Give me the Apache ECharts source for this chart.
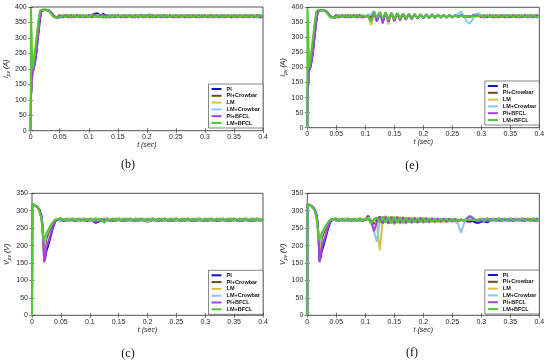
<!DOCTYPE html>
<html><head><meta charset="utf-8">
<script src="https://cdn.jsdelivr.net/npm/echarts/dist/echarts.min.js"></script>
<style>html,body{margin:0;padding:0;background:#fff}#c{width:550px;height:362px}</style>
</head><body><div id="c"></div>
<script>
// time samples (s)
const T = [0,0.0005,0.003,0.005,0.008,0.01,0.013,0.016,0.018,0.02,0.021,0.023,0.025,0.028,0.032,0.036,0.04,0.045,
0.05,0.055,0.06,0.065,0.07,0.075,0.08,0.085,0.09,0.095,
0.1,0.105,0.11,0.115,0.12,0.125,0.13,0.135,0.14,0.145,
0.15,0.155,0.16,0.165,0.17,0.175,0.18,0.185,0.19,0.195,
0.2,0.205,0.21,0.215,0.22,0.225,0.23,0.235,0.24,0.245,
0.25,0.255,0.26,0.265,0.27,0.275,0.28,0.285,0.29,0.295,
0.3,0.305,0.31,0.315,0.32,0.325,0.33,0.335,0.34,0.345,
0.35,0.355,0.36,0.365,0.37,0.375,0.38,0.385,0.39,0.395,
0.4];
const names = ['PI','PI+Crowbar','LM','LM+Crowbar','PI+BFCL','LM+BFCL'];
const colors = ['#1414c4','#6e4a1e','#d6c244','#86c8f0','#a640e0','#52c832'];
const xTicks = [0,0.05,0.1,0.15,0.2,0.25,0.3,0.35,0.4];
const captions = ['(b)','(e)','(c)','(f)'];

// start-up transient, Ipv (A), samples 0 .. 0.045 s
const iStartPI   = [0,110,190,198,225,255,310,360,385,390,391,391,391,390,388,380,370,366];
const iStartPIC  = [0,120,192,205,240,270,325,372,388,391,391,391,391,390,387,378,368,366];
const iStartLM   = [0,130,198,215,260,292,345,385,390,391,391,391,391,390,386,376,367,367];
const iStartLMC  = [0,125,196,212,255,287,340,382,389,391,391,391,391,390,386,376,367,367];
const iStartPIB  = [0,115,191,200,230,260,315,365,386,390,391,391,391,390,388,380,370,366];
const iStartLMB  = [0,395,200,220,268,300,352,388,390,391,391,391,391,390,386,376,367,367];
// start-up transient, Vpv (V)
const vStartPI   = [0,319,317,316,313,310,302,288,262,200,155,165,185,200,225,250,268,276];
const vStartPIC  = [0,319,317,316,313,309,300,284,255,200,180,200,220,235,250,262,272,276];
const vStartLM   = [0,319,317,316,312,308,298,280,250,195,185,215,232,242,255,266,274,276];
const vStartLMC  = [0,319,317,316,312,308,298,281,252,205,200,218,233,243,256,266,274,276];
const vStartPIB  = [0,319,317,316,313,310,302,288,262,205,152,170,195,210,232,255,270,276];
const vStartLMB  = [0,319,317,316,312,308,298,280,252,215,220,228,236,245,257,267,274,276];

// (b) Ipv, 0.05 .. 0.4 s
const bPI = [366,373,367,374,366,373,368,374,366,373,
367,374,378,380,371,378,368,375,366,374,
367,373,366,374,367,373,366,374,367,375,
368,376,366,374,367,373,366,374,367,373,
366,374,367,373,366,374,367,373,366,374,
367,373,366,374,367,373,366,374,367,373,
366,374,367,373,366,374,367,373,366,374,
370];
const bPIC = [374,367,373,366,374,367,373,366,374,367,
373,366,374,367,373,366,374,367,373,366,
374,367,373,366,374,367,373,366,374,367,
373,366,374,367,373,366,374,367,373,366,
374,367,373,366,374,367,373,366,374,367,
373,366,374,367,373,366,374,367,373,366,
374,367,373,366,374,367,373,366,374,367,
370];
const bLM = [375,366,374,367,376,366,374,367,375,366,
374,367,375,366,376,367,374,366,375,367,
376,366,374,367,375,366,376,367,374,366,
375,365,376,366,377,366,375,367,376,366,
374,367,375,366,374,367,376,366,375,367,
374,366,375,367,374,366,375,367,374,366,
375,367,374,366,375,367,374,366,375,367,
370];
const bLMC = [367,374,366,373,367,374,366,373,367,374,
366,373,368,375,366,373,367,374,366,373,
367,374,366,373,367,374,366,373,367,374,
366,373,367,374,366,373,367,374,366,373,
367,374,366,373,367,374,366,373,367,374,
366,373,367,374,366,373,367,374,366,373,
367,374,366,373,367,374,366,373,367,374,
370];
const bPIB = [373,366,374,367,373,366,374,367,373,366,
374,367,376,369,375,367,374,366,373,367,
374,366,373,367,374,366,373,367,374,366,
373,367,374,366,373,367,374,366,373,367,
374,366,373,367,374,366,373,367,374,366,
373,367,374,366,373,367,374,366,373,367,
374,366,373,367,374,366,373,367,374,366,
370];
const bLMB = [368,373,367,374,368,373,367,374,368,373,
367,374,368,373,366,372,364,373,367,374,
368,373,367,374,368,373,367,374,368,373,
367,374,368,373,367,374,368,373,367,374,
368,373,367,374,368,373,367,374,368,373,
367,374,368,373,367,374,368,373,367,374,
368,373,367,374,368,373,367,374,368,373,
370];

// (e) Ipv, 0.05 .. 0.4 s
const ePI = [366,373,367,374,366,373,367,374,366,373,
370,371,362,386,356,384,358,382,360,380,
360,380,362,379,362,378,363,377,364,377,
364,376,365,376,365,375,366,375,366,374,
366,374,367,374,368,370,368,372,376,375,
372,366,373,367,374,366,373,367,374,366,
373,367,374,366,373,367,374,366,373,367,
370];
const ePIC = [373,366,374,367,373,366,374,367,373,366,
369,374,365,383,358,382,360,380,361,379,
362,379,363,378,363,377,364,377,364,376,
365,376,365,375,366,375,366,374,367,374,
367,373,368,372,369,371,369,372,373,372,
368,374,367,373,366,374,367,373,366,374,
367,373,366,374,367,373,366,374,367,373,
370];
const eLM = [375,366,374,367,375,366,374,367,375,366,
370,372,341,378,372,382,355,384,343,382,
352,380,356,379,358,378,360,377,362,376,
363,376,364,375,365,375,366,374,366,374,
367,373,368,372,369,371,370,371,369,372,
366,375,367,374,366,375,367,374,366,375,
367,374,366,375,367,374,366,375,367,374,
370];
const eLMC = [367,374,366,373,367,374,366,373,367,374,
370,372,376,388,362,380,358,384,360,382,
358,381,360,380,361,379,362,378,363,377,
364,377,364,376,365,376,366,375,366,375,
367,374,378,386,372,352,346,360,377,380,
374,366,373,367,374,366,373,367,374,366,
373,367,374,366,373,367,374,366,373,367,
370];
const ePIB = [374,367,373,366,374,367,373,366,374,367,
369,371,358,384,352,383,346,382,352,381,
355,380,357,379,359,378,360,377,362,376,
363,376,364,375,365,375,366,374,366,374,
367,373,368,373,369,371,370,372,371,372,
367,373,366,374,367,373,366,374,367,373,
366,374,367,373,366,374,367,373,366,374,
370];
const eLMB = [368,373,367,374,368,373,367,374,368,373,
370,370,352,382,365,384,362,383,358,382,
360,380,361,379,362,378,363,377,364,376,
365,375,365,375,366,374,366,374,367,373,
367,373,368,372,369,371,370,371,369,371,
373,368,374,367,373,368,374,367,373,368,
374,367,373,368,374,367,373,368,374,367,
370];

// (c) Vpv, 0.05 .. 0.4 s
const cPI = [277,270,278,271,277,270,278,271,277,270,
278,271,265,268,277,270,278,271,277,270,
278,271,277,270,278,271,277,270,278,271,
277,270,278,271,277,270,278,271,277,270,
278,271,277,270,278,271,277,270,278,271,
277,270,278,271,277,270,278,271,277,270,
278,271,277,270,278,271,277,270,278,271,
274];
const cPIC = [271,277,270,278,271,277,270,278,271,277,
270,278,271,277,270,278,271,277,270,278,
271,277,270,278,271,277,270,278,271,277,
270,278,271,277,270,278,271,277,270,278,
271,277,270,278,271,277,270,278,271,277,
270,278,271,277,270,278,271,277,270,278,
271,277,270,278,271,277,270,278,271,277,
274];
const cLM = [279,271,278,270,279,271,278,270,279,271,
278,270,279,271,278,270,279,271,278,270,
279,271,278,270,279,271,278,270,279,271,
266,271,279,270,278,271,279,270,278,271,
279,270,278,271,279,270,278,271,279,270,
278,271,279,270,278,271,279,270,278,271,
279,270,278,271,279,270,278,271,279,270,
274];
const cLMC = [272,276,271,277,272,276,271,277,272,276,
271,277,268,275,272,276,271,277,272,276,
271,277,272,276,271,277,272,276,271,277,
268,276,271,277,272,276,271,277,272,276,
271,277,272,276,271,277,272,276,271,277,
272,276,271,277,272,276,271,277,272,276,
271,277,272,276,271,277,272,276,271,277,
274];
const cPIB = [276,271,277,272,276,271,277,272,276,271,
277,272,267,271,276,272,277,271,276,272,
277,271,276,272,277,271,276,272,277,271,
276,272,277,271,276,272,277,271,276,272,
277,271,276,272,277,271,276,272,277,271,
276,272,277,271,276,272,277,271,276,272,
277,271,276,272,277,271,276,272,277,271,
274];
const cLMB = [278,272,277,271,278,272,277,271,278,272,
277,271,278,272,276,265,277,272,278,271,
277,272,278,271,277,272,278,271,277,272,
278,271,277,272,278,271,277,272,278,271,
277,272,278,271,277,272,278,271,277,272,
278,271,277,272,278,271,277,272,278,271,
277,272,278,271,277,272,278,271,277,272,
275];

// (f) Vpv, 0.05 .. 0.4 s
const fPI = [277,271,278,270,277,271,278,270,277,271,
274,276,272,265,270,282,264,283,263,282,
264,282,265,281,265,280,266,280,266,279,
267,279,267,278,268,278,268,277,268,277,
269,276,270,274,272,270,268,271,266,265,
268,270,267,271,275,271,277,270,277,271,
278,270,277,271,278,270,277,271,278,270,
274];
const fPIC = [271,277,270,278,271,277,270,278,271,277,
274,286,270,262,276,283,265,282,264,282,
265,281,265,281,266,280,266,279,267,279,
267,278,268,278,268,277,269,277,269,276,
270,276,271,275,272,274,273,275,272,274,
275,271,277,270,278,271,277,270,278,271,
277,270,278,271,277,270,278,271,277,270,
274];
const fLM = [279,271,278,270,279,271,278,270,279,271,
274,278,268,272,262,186,270,286,262,284,
260,283,262,282,262,281,263,280,264,279,
264,279,265,278,266,277,266,277,267,276,
268,276,270,275,272,274,273,275,273,274,
278,270,279,271,278,270,279,271,278,270,
279,271,278,270,279,271,278,270,279,271,
274];
const fLMC = [272,276,271,277,272,276,271,277,272,276,
274,280,276,240,211,270,284,266,283,264,
283,265,282,265,281,266,280,266,279,267,
279,267,278,268,278,268,277,268,277,269,
276,270,262,237,262,280,285,282,274,270,
272,277,271,276,272,277,271,276,272,277,
271,276,272,277,271,276,272,277,271,276,
274];
const fPIB = [276,271,277,272,276,271,277,272,276,271,
274,276,270,241,268,282,264,283,263,282,
264,282,265,281,265,280,266,279,266,279,
267,278,267,278,268,277,268,277,269,276,
270,275,271,274,272,276,284,279,272,271,
272,276,271,277,272,276,271,277,272,276,
271,277,272,276,271,277,272,276,271,277,
274];
const fLMB = [278,272,277,271,278,272,277,271,278,272,
275,278,262,276,280,266,283,265,282,264,
282,265,281,265,280,266,280,266,279,267,
279,267,278,268,277,268,277,269,276,269,
276,270,275,272,274,273,275,273,274,274,
277,271,278,272,277,271,278,272,277,271,
278,272,277,271,278,272,277,271,278,272,
274];

const iStart = [iStartPI,iStartPIC,iStartLM,iStartLMC,iStartPIB,iStartLMB];
const vStart = [vStartPI,vStartPIC,vStartLM,vStartLMC,vStartPIB,vStartLMB];

const panels = [
  {grid:{left:30.7,top:7,width:232.3,height:123.7}, ymax:400, q:'I', u:'A', start:iStart, rest:[bPI,bPIC,bLM,bLMC,bPIB,bLMB], leg:{right:287,top:84}, cap:[128,165]},
  {grid:{left:307.3,top:7.3,width:232,height:120.4}, ymax:400, q:'I', u:'A', start:iStart, rest:[ePI,ePIC,eLM,eLMC,ePIB,eLMB], leg:{right:10.7,top:81}, cap:[412,166]},
  {grid:{left:32,top:193.3,width:231,height:122}, ymax:350, q:'V', u:'V', start:vStart, rest:[cPI,cPIC,cLM,cLMC,cPIB,cLMB], leg:{right:287,top:270.3}, cap:[128,354]},
  {grid:{left:307.3,top:193.3,width:232,height:122}, ymax:350, q:'V', u:'V', start:vStart, rest:[fPI,fPIC,fLM,fLMC,fPIB,fLMB], leg:{right:10.7,top:270}, cap:[412,353]}
];

const AX = '#262626';
const FF = '"Liberation Sans", Arial, sans-serif';
const option = {animation:false, backgroundColor:'#fff',
  grid:[], xAxis:[], yAxis:[], series:[], legend:[], graphic:[]};

panels.forEach((p,i)=>{
  option.grid.push(Object.assign({show:true, borderColor:AX, borderWidth:0.8, backgroundColor:'#fff', containLabel:false}, p.grid));
  option.xAxis.push({type:'value', gridIndex:i, min:0, max:0.4, interval:0.05,
    axisLine:{show:false}, splitLine:{show:false},
    axisTick:{inside:true, length:2.5, lineStyle:{color:AX, width:0.6}},
    axisLabel:{fontSize:7, color:AX, margin:3, fontFamily:FF},
    name:'t (sec)', nameLocation:'middle', nameGap:11,
    nameTextStyle:{fontSize:7, fontStyle:'italic', color:AX, fontFamily:FF}});
  option.yAxis.push({type:'value', gridIndex:i, min:0, max:p.ymax, interval:50,
    axisLine:{show:false}, splitLine:{show:false},
    axisTick:{inside:true, length:2.5, lineStyle:{color:AX, width:0.6}},
    axisLabel:{fontSize:7, color:AX, margin:4, fontFamily:FF},
    name:'{a|'+p.q+'}{s|pv}{a| ('+p.u+')}', nameLocation:'middle', nameGap:17, nameRotate:90,
    nameTextStyle:{color:AX, fontFamily:FF, rich:{
      a:{fontSize:7, fontStyle:'italic', color:AX, fontFamily:FF, lineHeight:10, verticalAlign:'middle'},
      s:{fontSize:5, fontStyle:'italic', color:AX, fontFamily:FF, verticalAlign:'bottom'}}}});
  option.legend.push(Object.assign({data:names, orient:'vertical', icon:'rect',
    itemWidth:10, itemHeight:2, itemGap:0.8, padding:[2,3,2,3],
    backgroundColor:'#fff', borderColor:'#333', borderWidth:0.6, selectedMode:false,
    textStyle:{fontSize:5.5, fontWeight:'bold', color:'#111', fontFamily:FF, lineHeight:5.8}}, p.leg));
  option.graphic.push({type:'text', x:p.cap[0], y:p.cap[1], z:100,
    style:{text:captions[i], fill:'#111', font:'12px "Liberation Serif", "Times New Roman", serif',
      align:'center', verticalAlign:'middle', textAlign:'center', textVerticalAlign:'middle'}});
  names.forEach((n,k)=>{
    const vals = p.start[k].concat(p.rest[k]);
    option.series.push({type:'line', name:n, xAxisIndex:i, yAxisIndex:i,
      data:T.map((t,j)=>[t, vals[j]]), showSymbol:false, symbol:'none',
      lineStyle:{width:2, color:colors[k]}, itemStyle:{color:colors[k]}, z:2+k});
  });
});
// mirror axes for ticks on top/right box edges
panels.forEach((p,i)=>{
  option.xAxis.push({type:'value', gridIndex:i, position:'top', min:0, max:0.4, interval:0.05,
    axisLine:{show:false}, splitLine:{show:false}, axisLabel:{show:false},
    axisTick:{inside:true, length:2.5, lineStyle:{color:AX, width:0.6}}});
  option.yAxis.push({type:'value', gridIndex:i, position:'right', min:0, max:p.ymax, interval:50,
    axisLine:{show:false}, splitLine:{show:false}, axisLabel:{show:false},
    axisTick:{inside:true, length:2.5, lineStyle:{color:AX, width:0.6}}});
});

const chart = echarts.init(document.getElementById('c'), null, {renderer:'canvas'});
chart.setOption(option);
</script>
</body></html>
